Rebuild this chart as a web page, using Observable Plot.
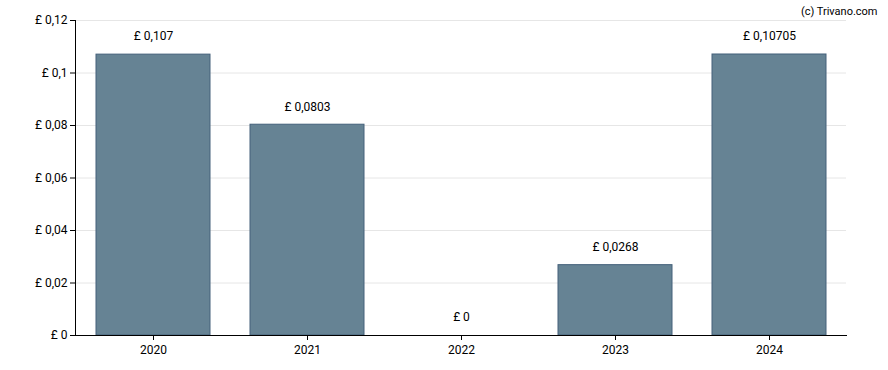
<!DOCTYPE html>
<html>
<head>
<meta charset="utf-8">
<script src="https://cdn.jsdelivr.net/npm/d3@7"></script>
<script src="https://cdn.jsdelivr.net/npm/@observablehq/plot@0.6"></script>
<style>
  html, body { margin: 0; padding: 0; background: #fff; }
  svg { font-family: Roboto, sans-serif; }
</style>
</head>
<body>
<div id="chart"></div>
<script>
const years = ["2020", "2021", "2022", "2023", "2024"];
const dividends = [0.107, 0.0803, 0, 0.0268, 0.10705];
const valueLabels = ["£ 0,107", "£ 0,0803", "£ 0", "£ 0,0268", "£ 0,10705"];
const yTicks = [0, 0.02, 0.04, 0.06, 0.08, 0.1, 0.12];
const yTickLabels = ["£ 0", "£ 0,02", "£ 0,04", "£ 0,06", "£ 0,08", "£ 0,1", "£ 0,12"];
const credit = "(c) Trivano.com";

const data = years.map((y, i) => ({year: y, value: dividends[i], label: valueLabels[i]}));
const tickLabel = new Map(yTicks.map((t, i) => [t, yTickLabels[i]]));

const chart = Plot.plot({
  width: 888,
  height: 370,
  marginLeft: 75,
  marginRight: 42,
  marginTop: 20,
  marginBottom: 35,
  style: {fontFamily: "Roboto, sans-serif", fontSize: "12px", color: "#000", background: "#fff"},
  x: {domain: years, paddingInner: 0.26, paddingOuter: 0.13, label: null},
  y: {domain: [0, 0.12], label: null},
  marks: [
    Plot.gridY(yTicks, {stroke: "#e6e6e6", strokeOpacity: 1}),
    Plot.barY(data, {x: "year", y: "value", fill: "#668394", stroke: "#44607a", strokeWidth: 1}),
    Plot.text(data, {x: "year", y: "value", text: "label", dy: -18, fontSize: 12, fill: "#000"}),
    Plot.axisY(yTicks, {tickSize: 5, tickPadding: 3, tickFormat: d => tickLabel.get(d), fontSize: 12, fill: "#000", stroke: "#000"}),
    Plot.axisX({tickSize: 5, tickPadding: 5, fontSize: 12, fill: "#000", stroke: "#000"}),
    Plot.frame({anchor: "left", stroke: "#000"}),
    Plot.frame({anchor: "bottom", stroke: "#000"}),
    Plot.text([credit], {frameAnchor: "top-right", dx: 31, dy: -13, fontSize: 11, fill: "#000", textAnchor: "end"})
  ]
});
document.getElementById("chart").appendChild(chart);
</script>
</body>
</html>
